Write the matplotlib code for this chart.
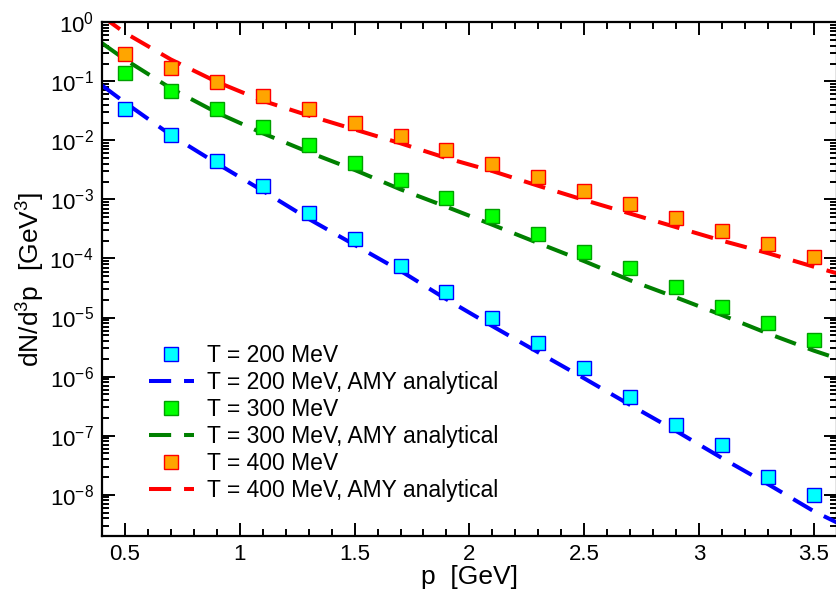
import matplotlib
matplotlib.use("Agg")
import matplotlib.pyplot as plt
from matplotlib.ticker import LogLocator, MultipleLocator, NullFormatter

plt.rcParams['font.family'] = ['Liberation Sans', 'DejaVu Sans']
plt.rcParams['mathtext.fontset'] = 'custom'
plt.rcParams['mathtext.rm'] = 'Liberation Sans'
plt.rcParams['mathtext.it'] = 'Liberation Sans'

# momentum points of the simulation
p_pts = [0.5, 0.7, 0.9, 1.1, 1.3, 1.5, 1.7, 1.9, 2.1, 2.3, 2.5, 2.7, 2.9, 3.1, 3.3, 3.5]
rate_200 = [0.0333, 0.01225, 0.00444, 0.00168, 5.93e-4, 2.1e-4, 7.5e-5, 2.73e-5,
            9.7e-6, 3.65e-6, 1.41e-6, 4.45e-7, 1.51e-7, 6.95e-8, 2.02e-8, 9.9e-9]
rate_300 = [0.139, 0.068, 0.0341, 0.0169, 0.00828, 0.00416, 0.00212, 0.00104,
            5.2e-4, 2.58e-4, 1.28e-4, 6.8e-5, 3.3e-5, 1.52e-5, 8.1e-6, 4.15e-6]
rate_400 = [0.295, 0.169, 0.0977, 0.0574, 0.0346, 0.0198, 0.0118, 0.00682,
            0.00405, 0.00235, 0.0014, 8.3e-4, 4.9e-4, 2.94e-4, 1.75e-4, 1.04e-4]

# AMY analytical curves
p_amy = [0.4, 0.5, 0.7, 0.9, 1.1, 1.3, 1.5, 1.7, 1.9, 2.1, 2.3, 2.5, 2.7, 2.9, 3.1, 3.3, 3.5, 3.6]
amy_200 = [0.0851, 0.0437, 0.0123, 0.00407, 0.0014, 4.68e-4, 1.70e-4, 6.17e-5, 2.04e-5,
           7.16e-6, 2.57e-6, 9.33e-7, 3.31e-7, 1.20e-7, 4.17e-8, 1.51e-8, 5.25e-9, 3.39e-9]
amy_300 = [0.442, 0.234, 0.0759, 0.0295, 0.0132, 0.00631, 0.00316, 0.00148, 7.5e-4,
           3.72e-4, 1.82e-4, 9.0e-5, 4.27e-5, 2.19e-5, 1.10e-5, 5.37e-6, 2.75e-6, 2.04e-6]
amy_400 = [1.26, 0.661, 0.234, 0.0977, 0.0468, 0.0263, 0.0153, 0.00891, 0.00501,
           0.00302, 0.0017, 9.77e-4, 5.75e-4, 3.39e-4, 2.0e-4, 1.23e-4, 7.24e-5, 5.62e-5]

temps = ['200', '300', '400']
sim_rates = [rate_200, rate_300, rate_400]
amy_rates = [amy_200, amy_300, amy_400]
fill_colors = ['#00ffff', '#00ff00', '#ffa500']
edge_colors = ['#0000ff', '#00a000', '#ff0000']
line_colors = ['#0000ff', '#008000', '#ff0000']

fig = plt.figure(figsize=(8.36, 5.94), dpi=100)
ax = fig.add_axes([0.122, 0.0976, 0.879, 0.865])

for T, sim, amy, fc, ec, lc in zip(temps, sim_rates, amy_rates, fill_colors, edge_colors, line_colors):
    ax.plot(p_pts, sim, linestyle='none', marker='s', markersize=9.5,
            markerfacecolor=fc, markeredgecolor=ec, markeredgewidth=1.0,
            label=f'T = {T} MeV', zorder=3)
    ax.plot(p_amy, amy, color=lc, linewidth=2.9, dashes=(5.5, 3.2),
            label=f'T = {T} MeV, AMY analytical', zorder=2)

ax.set_yscale('log')
ax.set_xlim(0.4, 3.6)
ax.set_ylim(2e-9, 1.0)

ax.xaxis.set_minor_locator(MultipleLocator(0.1))
ax.yaxis.set_major_locator(LogLocator(base=10, numticks=20))
ax.yaxis.set_minor_locator(LogLocator(base=10, subs=range(2, 10), numticks=20))
ax.yaxis.set_minor_formatter(NullFormatter())
ax.set_xticks([0.5, 1, 1.5, 2, 2.5, 3, 3.5])
ax.set_xticklabels(['0.5', '1', '1.5', '2', '2.5', '3', '3.5'])

ax.tick_params(which='both', direction='in', top=True, right=True, width=1.4)
ax.tick_params(which='major', length=9.4, labelsize=16, pad=6)
ax.tick_params(which='minor', length=4.7)
for sp in ax.spines.values():
    sp.set_linewidth(1.6)

ax.set_xlabel('p  [GeV]', fontsize=19, labelpad=0)
ax.set_ylabel(r'dN/d$^3$p  [GeV$^3$]', fontsize=19, labelpad=2)

ax.legend(loc='upper left', bbox_to_anchor=(0.064, 0.373), frameon=False,
          fontsize=16.5, numpoints=1, handlelength=1.95, handletextpad=0.6,
          labelspacing=0.17, borderpad=0, borderaxespad=0)

fig.savefig('out.png', dpi=100)
